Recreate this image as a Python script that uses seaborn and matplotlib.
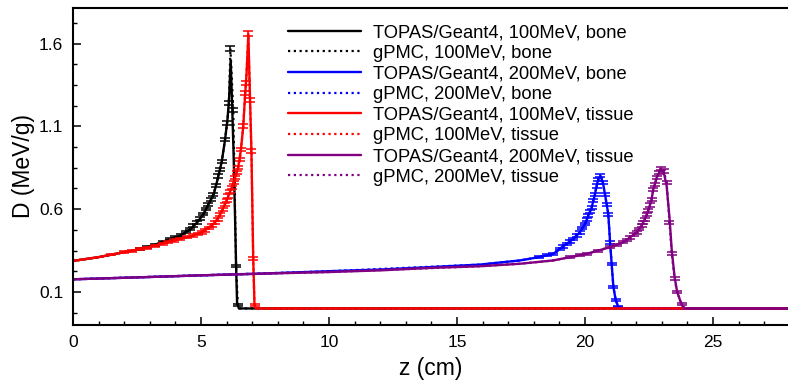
import numpy as np
import pandas as pd
import matplotlib
matplotlib.use("Agg")
import matplotlib.pyplot as plt
from matplotlib.lines import Line2D
from matplotlib.ticker import FixedLocator, MultipleLocator
import seaborn as sns

# ---------------- data ----------------
# TOPAS/Geant4, 100 MeV, bone
z_g4_b100 = [0, 1, 2, 2.6, 3.2, 3.8, 4.2, 4.6, 4.85, 5.1, 5.3, 5.5, 5.68, 5.81, 5.94,
             6.04, 6.10, 6.16, 6.22, 6.27, 6.33, 6.37, 6.41, 6.48, 28]
d_g4_b100 = [0.287, 0.31, 0.34, 0.357, 0.385, 0.42, 0.44, 0.48, 0.52, 0.57, 0.63, 0.69, 0.80, 0.886, 1.02,
             1.15, 1.28, 1.50, 1.21, 0.95, 0.55, 0.26, 0.03, 0.0, 0.0]
# gPMC, 100 MeV, bone
z_gp_b100 = [0, 1, 2, 2.6, 2.9, 3.2, 3.5, 3.8, 4.0, 4.2, 4.4, 4.57, 4.7, 4.83, 4.96, 5.09,
             5.19, 5.29, 5.39, 5.48, 5.58, 5.68, 5.74, 5.81, 5.94, 6.02, 6.09, 6.15, 6.26,
             6.37, 6.44, 6.5, 28]
d_gp_b100 = [0.287, 0.31, 0.34, 0.357, 0.37, 0.385, 0.40, 0.42, 0.43, 0.44, 0.46, 0.48, 0.50, 0.52, 0.545, 0.57,
             0.60, 0.63, 0.66, 0.69, 0.74, 0.80, 0.84, 0.886, 1.02, 1.12, 1.24, 1.57, 1.20,
             0.257, 0.02, 0.0, 0.0]
e_gp_b100 = [0, 0, 0, 0.006, 0.006, 0.006, 0.006, 0.007, 0.007, 0.007, 0.007, 0.007, 0.008, 0.008, 0.008, 0.008,
             0.008, 0.009, 0.009, 0.009, 0.009, 0.010, 0.010, 0.010, 0.011, 0.012, 0.012, 0.015, 0.012,
             0.008, 0.004, 0, 0]

# TOPAS/Geant4, 200 MeV, bone
z_g4_b200 = [0, 3, 5, 7.3, 10, 12, 14, 15.9, 17.46, 18.2, 18.76, 19.02, 19.28, 19.54, 19.8, 20.0,
             20.13, 20.26, 20.39, 20.45, 20.52, 20.61, 20.70, 20.78, 20.91, 20.98, 21.04, 21.11,
             21.2, 21.3, 21.4, 28]
d_g4_b200 = [0.176, 0.19, 0.20, 0.21, 0.225, 0.235, 0.25, 0.265, 0.29, 0.31, 0.33, 0.36, 0.39, 0.42, 0.46, 0.51,
             0.56, 0.61, 0.69, 0.74, 0.78, 0.80, 0.76, 0.69, 0.57, 0.40, 0.27, 0.13,
             0.05, 0.01, 0.0, 0.0]
# gPMC, 200 MeV, bone
z_gp_b200 = [0, 5, 10, 15.9, 17.46, 18.2, 18.5, 18.76, 19.02, 19.15, 19.28, 19.41, 19.54, 19.67, 19.8,
             19.9, 20.0, 20.07, 20.13, 20.2, 20.26, 20.33, 20.39, 20.45, 20.52, 20.6, 20.7, 20.78,
             20.85, 20.91, 20.98, 21.04, 21.11, 21.2, 21.3, 21.4, 28]
d_gp_b200 = [0.176, 0.20, 0.225, 0.265, 0.29, 0.31, 0.32, 0.33, 0.36, 0.375, 0.39, 0.405, 0.42, 0.44, 0.46,
             0.485, 0.51, 0.535, 0.56, 0.585, 0.61, 0.65, 0.69, 0.74, 0.78, 0.805, 0.76, 0.69,
             0.63, 0.57, 0.40, 0.27, 0.13, 0.05, 0.012, 0.0, 0.0]
e_gp_b200 = [0, 0, 0, 0, 0, 0.006, 0.006, 0.006, 0.007, 0.007, 0.007, 0.007, 0.008, 0.008, 0.008,
             0.008, 0.008, 0.009, 0.009, 0.009, 0.009, 0.009, 0.010, 0.010, 0.010, 0.010, 0.010, 0.010,
             0.009, 0.009, 0.008, 0.007, 0.006, 0.005, 0.004, 0, 0]

# TOPAS/Geant4, 100 MeV, tissue
z_g4_t100 = [0, 1, 2, 2.62, 3.2, 3.7, 4.18, 4.7, 5.0, 5.2, 5.4, 5.55, 5.74, 5.94, 6.07, 6.2,
             6.33, 6.45, 6.56, 6.65, 6.72, 6.78, 6.85, 6.91, 6.97, 7.04, 7.09, 7.15, 28]
d_g4_t100 = [0.287, 0.31, 0.34, 0.357, 0.38, 0.40, 0.42, 0.44, 0.46, 0.48, 0.50, 0.52, 0.565, 0.63, 0.68, 0.73,
             0.79, 0.85, 0.96, 1.10, 1.28, 1.42, 1.65, 1.30, 0.95, 0.30, 0.02, 0.0, 0.0]
# gPMC, 100 MeV, tissue
z_gp_t100 = [0, 1, 1.5, 2, 2.3, 2.62, 2.9, 3.2, 3.5, 3.7, 3.95, 4.18, 4.45, 4.7, 4.9, 5.05,
             5.16, 5.3, 5.42, 5.55, 5.65, 5.74, 5.84, 5.94, 6.0, 6.07, 6.14, 6.2, 6.27, 6.33,
             6.39, 6.45, 6.52, 6.56, 6.65, 6.72, 6.76, 6.85, 6.91, 6.97, 7.04, 7.09, 7.15, 28]
d_gp_t100 = [0.287, 0.31, 0.325, 0.34, 0.348, 0.357, 0.368, 0.38, 0.392, 0.40, 0.41, 0.42, 0.43, 0.44, 0.45, 0.46,
             0.47, 0.485, 0.50, 0.52, 0.54, 0.565, 0.595, 0.63, 0.655, 0.68, 0.705, 0.73, 0.76, 0.79,
             0.82, 0.85, 0.90, 0.96, 1.10, 1.30, 1.36, 1.66, 1.26, 0.95, 0.30, 0.02, 0.0, 0.0]
e_gp_t100 = [0, 0, 0.005, 0.005, 0.005, 0.006, 0.006, 0.006, 0.006, 0.007, 0.007, 0.007, 0.007, 0.007, 0.007, 0.008,
             0.008, 0.008, 0.008, 0.008, 0.009, 0.009, 0.009, 0.009, 0.009, 0.010, 0.010, 0.010, 0.010, 0.010,
             0.010, 0.010, 0.011, 0.011, 0.012, 0.012, 0.013, 0.016, 0.013, 0.011, 0.008, 0.004, 0, 0]

# TOPAS/Geant4, 200 MeV, tissue
z_g4_t200 = [0, 3, 5, 7.3, 10, 12, 14, 15.9, 17.46, 18.76, 20.07, 20.98, 21.5, 21.76, 22.02, 22.21,
             22.34, 22.47, 22.6, 22.67, 22.8, 22.96, 23.08, 23.19, 23.3, 23.39, 23.5, 23.6, 23.78, 23.9, 28]
d_g4_t200 = [0.176, 0.19, 0.20, 0.21, 0.22, 0.23, 0.245, 0.255, 0.27, 0.29, 0.33, 0.37, 0.40, 0.43, 0.46, 0.50,
             0.54, 0.59, 0.66, 0.72, 0.79, 0.84, 0.82, 0.74, 0.55, 0.35, 0.19, 0.10, 0.02, 0.0, 0.0]
# gPMC, 200 MeV, tissue
z_gp_t200 = [0, 5, 10, 15.9, 17.46, 18.76, 19.4, 19.8, 20.07, 20.5, 20.98, 21.25, 21.5, 21.64, 21.76,
             21.9, 22.02, 22.12, 22.21, 22.28, 22.34, 22.41, 22.47, 22.54, 22.6, 22.67, 22.74, 22.8,
             22.88, 22.96, 23.08, 23.19, 23.3, 23.39, 23.5, 23.6, 23.78, 23.9, 28]
d_gp_t200 = [0.176, 0.20, 0.22, 0.255, 0.27, 0.29, 0.31, 0.32, 0.33, 0.35, 0.37, 0.385, 0.40, 0.415, 0.43,
             0.445, 0.46, 0.48, 0.50, 0.52, 0.54, 0.565, 0.59, 0.625, 0.66, 0.72, 0.75, 0.79,
             0.82, 0.845, 0.83, 0.76, 0.52, 0.33, 0.18, 0.10, 0.026, 0.0, 0.0]
e_gp_t200 = [0, 0, 0, 0, 0, 0, 0.006, 0.006, 0.006, 0.006, 0.007, 0.007, 0.007, 0.007, 0.008,
             0.008, 0.008, 0.008, 0.009, 0.009, 0.009, 0.009, 0.009, 0.010, 0.010, 0.010, 0.010, 0.010,
             0.010, 0.011, 0.010, 0.010, 0.009, 0.008, 0.007, 0.006, 0.004, 0, 0]

labels = ["TOPAS/Geant4, 100MeV, bone", "gPMC, 100MeV, bone",
          "TOPAS/Geant4, 200MeV, bone", "gPMC, 200MeV, bone",
          "TOPAS/Geant4, 100MeV, tissue", "gPMC, 100MeV, tissue",
          "TOPAS/Geant4, 200MeV, tissue", "gPMC, 200MeV, tissue"]
colors = ["#000000", "#0000ff", "#ff0000", "#800080"]

x_major = [0, 5, 10, 15, 20, 25]
y_major = [0.1, 0.6, 1.1, 1.6]

# ---------------- styling ----------------
sns.set_style("ticks")
plt.rcParams["font.family"] = ["Liberation Sans", "DejaVu Sans"]
plt.rcParams["text.color"] = "black"
plt.rcParams["axes.labelcolor"] = "black"
plt.rcParams["xtick.color"] = "black"
plt.rcParams["ytick.color"] = "black"

fig = plt.figure(figsize=(7.88, 3.91), dpi=100)
ax = fig.add_axes([73 / 788, 66 / 391, (788 - 73) / 788, (325 - 8) / 391])

series = [
    (z_g4_b100, d_g4_b100, z_gp_b100, d_gp_b100, e_gp_b100),
    (z_g4_b200, d_g4_b200, z_gp_b200, d_gp_b200, e_gp_b200),
    (z_g4_t100, d_g4_t100, z_gp_t100, d_gp_t100, e_gp_t100),
    (z_g4_t200, d_g4_t200, z_gp_t200, d_gp_t200, e_gp_t200),
]

dot_style = (0, (1, 1.6))
handles = []
for i, (zg, dg, zp, dp, ep) in enumerate(series):
    c = colors[i]
    dfg = pd.DataFrame({"z": zg, "D": dg})
    dfp = pd.DataFrame({"z": zp, "D": dp, "err": ep})
    sns.lineplot(data=dfg, x="z", y="D", ax=ax, color=c, lw=1.7, sort=False,
                 estimator=None, legend=False)
    sns.lineplot(data=dfp, x="z", y="D", ax=ax, color=c, lw=1.6, sort=False,
                 estimator=None, legend=False, linestyle=dot_style)
    m = dfp["err"] > 0
    ax.errorbar(dfp.loc[m, "z"], dfp.loc[m, "D"], yerr=dfp.loc[m, "err"], fmt="none",
                ecolor=c, elinewidth=1.1, capsize=3.4, capthick=1.1)
    handles.append(Line2D([], [], color=c, lw=1.7, linestyle="-"))
    handles.append(Line2D([], [], color=c, lw=1.6, linestyle=dot_style))

ax.set_xlim(0, 27.93)
ax.set_ylim(-0.1, 1.815)
ax.xaxis.set_major_locator(FixedLocator(x_major))
ax.xaxis.set_minor_locator(MultipleLocator(1))
ax.yaxis.set_major_locator(FixedLocator(y_major))
ax.yaxis.set_minor_locator(FixedLocator(np.arange(-0.025, 1.8, 0.125)))
ax.set_xticklabels([str(v) for v in x_major])
ax.set_yticklabels([f"{v:.1f}" for v in y_major])

ax.tick_params(axis="both", which="major", direction="in", length=6, width=1.1,
               labelsize=12.5, pad=7, colors="black")
ax.tick_params(axis="both", which="minor", direction="in", length=3, width=1.0)
ax.tick_params(top=False, right=False, which="both")
for s in ["left", "bottom", "top"]:
    ax.spines[s].set_linewidth(1.5)
    ax.spines[s].set_color("black")
ax.spines["right"].set_visible(False)

ax.set_xlabel("z (cm)", fontsize=16.5, labelpad=5)
ax.set_ylabel("D (MeV/g)", fontsize=16.5, labelpad=3)

leg = fig.legend(handles, labels, loc="upper left", bbox_to_anchor=(288 / 788, 1 - 24 / 391),
                 frameon=False, fontsize=13.2, handlelength=4.0, handletextpad=0.62,
                 labelspacing=0.2, borderpad=0, borderaxespad=0)

fig.savefig("out.png", dpi=100)
